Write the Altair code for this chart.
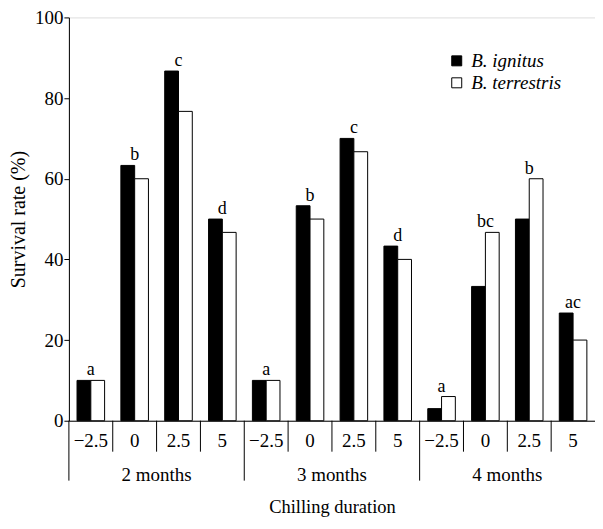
import altair as alt
import pandas as pd

months = ["2 months", "3 months", "4 months"]
chill = ["\u22122.5", "0", "2.5", "5"]
species = ["B. ignitus", "B. terrestris"]
ignitus = [10, 63.3, 86.7, 50, 10, 53.3, 70, 43.3, 3, 33.3, 50, 26.7]
terrestris = [10, 60, 76.7, 46.7, 10, 50, 66.7, 40, 6, 46.7, 60, 20]
letters = ["a", "b", "c", "d", "a", "b", "c", "d", "a", "bc", "b", "ac"]

W, H = 527, 404
FONT = "Liberation Serif"

cats, rows, cat_rows = [], [], []
for mi, m in enumerate(months):
    for ci, c in enumerate(chill):
        i = mi * 4 + ci
        key = f"{m}|{c}"
        cats.append(key)
        rows.append({"cat": key, "species": species[0], "value": ignitus[i]})
        rows.append({"cat": key, "species": species[1], "value": terrestris[i]})
        cat_rows.append({"cat": key, "month": m, "chill": c, "pos": ci,
                         "letter": letters[i],
                         "top": max(ignitus[i], terrestris[i])})

bars_df = pd.DataFrame(rows)
cat_df = pd.DataFrame(cat_rows)

xaxis = alt.Axis(labels=False, ticks=False, title="Chilling duration",
                 titlePadding=77, domainColor="black", titleFont=FONT,
                 titleFontSize=18.5, titleFontWeight="normal", titleColor="black")
xscale = alt.Scale(paddingInner=0, paddingOuter=0)


def X(band=None):
    if band is None:
        return alt.X("cat:N", sort=cats, scale=xscale, axis=xaxis)
    return alt.X("cat:N", sort=cats, scale=xscale, axis=xaxis, bandPosition=band)


yenc = alt.Y("value:Q", scale=alt.Scale(domain=[0, 100]),
             axis=alt.Axis(values=[0, 20, 40, 60, 80, 100], grid=False, tickSize=5,
                           tickColor="black", domainColor="black", labelPadding=1,
                           labelFont=FONT, labelFontSize=19, labelColor="black",
                           title="Survival rate (%)", titleFont=FONT, titleFontSize=20,
                           titleFontWeight="normal", titleColor="black", titlePadding=6))

bars = alt.Chart(bars_df).mark_bar(stroke="black", strokeWidth=1).encode(
    x=X(),
    xOffset=alt.XOffset("species:N", sort=species,
                        scale=alt.Scale(paddingInner=0, paddingOuter=0.59)),
    y=yenc,
    fill=alt.Fill("species:N", sort=species,
                  scale=alt.Scale(domain=species, range=["black", "white"]),
                  legend=alt.Legend(title=None, orient="none", legendX=379, legendY=34,
                                    symbolType="square", symbolSize=100,
                                    symbolStrokeColor="black", symbolStrokeWidth=1,
                                    labelFont=FONT, labelFontSize=19,
                                    labelFontStyle="italic", labelColor="black",
                                    labelOffset=5, rowPadding=2, padding=0)),
)

letter_marks = alt.Chart(cat_df).mark_text(
    font=FONT, fontSize=18, baseline="alphabetic", dy=-5, color="black"
).encode(x=X(), y=alt.Y("top:Q"), text="letter:N")

short_rules = alt.Chart(cat_df).transform_filter("datum.pos != 0").mark_rule(
    color="black", strokeWidth=1
).encode(x=X(0), y=alt.value(H), y2=alt.value(H + 31))

long_rules = alt.Chart(cat_df).transform_filter("datum.pos == 0").mark_rule(
    color="black", strokeWidth=1
).encode(x=X(0), y=alt.value(H), y2=alt.value(H + 60))

chill_labels = alt.Chart(cat_df).mark_text(
    font=FONT, fontSize=19, baseline="middle", color="black"
).encode(x=X(), y=alt.value(H + 20), text="chill:N")

month_labels = alt.Chart(cat_df).transform_filter("datum.pos == 2").mark_text(
    font=FONT, fontSize=19, baseline="middle", color="black"
).encode(x=X(0), y=alt.value(H + 54), text="month:N")

chart = alt.layer(bars, letter_marks, short_rules, long_rules, chill_labels,
                  month_labels).properties(
    width=W, height=H,
    padding={"left": 0, "top": 0, "right": 0, "bottom": 0},
).configure_view(stroke=None).configure(background="white")

chart.save("out.html", embed_options={"renderer": "svg", "actions": False})
